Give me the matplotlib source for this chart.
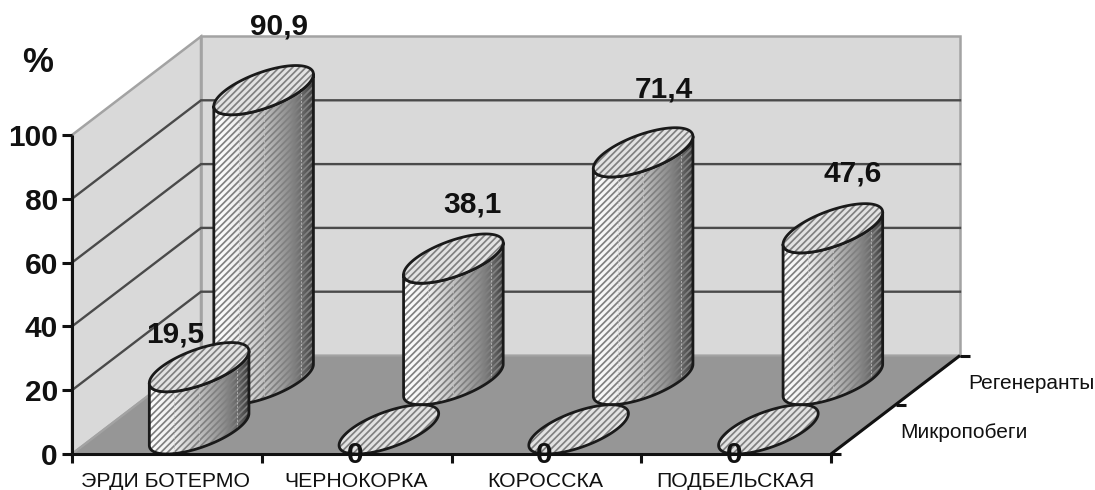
import numpy as np
import matplotlib
matplotlib.use("Agg")
import matplotlib.pyplot as plt
from matplotlib.patches import Polygon
from matplotlib.colors import LinearSegmentedColormap

plt.rcParams["font.family"] = ["Liberation Sans", "DejaVu Sans"]
plt.rcParams["hatch.linewidth"] = 1.25

categories = ["ЭРДИ БОТЕРМО", "ЧЕРНОКОРКА", "КОРОССКА", "ПОДБЕЛЬСКАЯ"]
series_names = ["Микропобеги", "Регенеранты"]
micro_values = [19.5, 0, 0, 0]
regen_values = [90.9, 38.1, 71.4, 47.6]
value_ticks = [0, 20, 40, 60, 80, 100]

# Oblique projection of the chart box onto the canvas
X0, Y0 = 72.0, 454.0
CAT_W = 189.75
DEPTH_X, DEPTH_Y = 129.0, 98.5
VAL_H = 3.19


def project(cat, depth, value):
    return X0 + cat * CAT_W + depth * DEPTH_X, Y0 - value * VAL_H - depth * DEPTH_Y


fig = plt.figure(figsize=(10.95, 4.9), dpi=100)
ax = fig.add_axes([0, 0, 1, 1])
ax.set_xlim(0, 1095)
ax.set_ylim(490, 0)
ax.axis("off")

n = len(categories)
WALL, FLOOR, EDGE = "#d9d9d9", "#969696", "#a3a3a3"
GRID = "#4a4a4a"

ax.add_patch(Polygon([project(0, 1, 0), project(n, 1, 0), project(n, 1, 100), project(0, 1, 100)],
                     fc=WALL, ec=EDGE, lw=1.8, zorder=1))
ax.add_patch(Polygon([project(0, 0, 0), project(0, 1, 0), project(0, 1, 100), project(0, 0, 100)],
                     fc=WALL, ec=EDGE, lw=1.8, zorder=1))
ax.add_patch(Polygon([project(0, 0, 0), project(n, 0, 0), project(n, 1, 0), project(0, 1, 0)],
                     fc=FLOOR, ec=EDGE, lw=1.6, zorder=2))

for v in value_ticks[1:-1]:
    pts = np.array([project(0, 0, v), project(0, 1, v), project(n, 1, v)])
    ax.plot(pts[:, 0], pts[:, 1], color=GRID, lw=1.7, zorder=2, solid_joinstyle="miter")

shade = LinearSegmentedColormap.from_list(
    "cyl", [(0, "#ffffff"), (0.25, "#eeeeee"), (0.5, "#c0c0c0"), (0.75, "#8f8f8f"), (0.92, "#5c5c5c"), (1, "#3c3c3c")])
gradient = np.linspace(0, 1, 256).reshape(1, -1)

RAD_CAT, RAD_DEPTH = 0.2, 0.25
HATCH = "/////"
STRIPE = "#808080"


def ring(i, depth, value, t):
    pts = [project(i + 0.5 + RAD_CAT * np.cos(a), depth + RAD_DEPTH * np.sin(a), value) for a in t]
    return np.array(pts)


def cylinder(i, depth, value, z):
    t_full = np.linspace(0, 2 * np.pi, 160)
    if value > 0:
        # silhouette angle where the projected disc reaches its x extreme
        t0 = np.arctan2(RAD_DEPTH * DEPTH_X, RAD_CAT * CAT_W)
        lower = ring(i, depth, 0, np.linspace(t0, t0 - np.pi, 90))
        upper = ring(i, depth, value, np.linspace(t0 - np.pi, t0, 90))
        body = np.vstack([lower, upper])
        xl, xr = lower[:, 0].min(), lower[:, 0].max()
        ytop, ybot = body[:, 1].min(), body[:, 1].max()
        im = ax.imshow(gradient, cmap=shade, extent=(xl, xr, ybot, ytop), aspect="auto",
                       zorder=z, interpolation="bilinear")
        clip = Polygon(body, transform=ax.transData, fc="none", ec="none")
        ax.add_patch(clip)
        im.set_clip_path(clip)
        ax.add_patch(Polygon(body, fc="none", ec=STRIPE, hatch=HATCH, lw=0, zorder=z + 0.01))
        # faint facet seams on the side of the column
        for frac in (0.25, 0.5, 0.88):
            xs = xl + frac * (xr - xl)
            ytop_seam = np.interp(xs, upper[:, 0], upper[:, 1])
            ybot_seam = np.interp(xs, lower[::-1, 0], lower[::-1, 1])
            ax.plot([xs, xs], [ytop_seam, ybot_seam], color="#c8c8c8", lw=0.5, ls=(0, (3, 2)), zorder=z + 0.02)
        ax.add_patch(Polygon(body, fc="none", ec="#1a1a1a", lw=2.0, zorder=z + 0.03, joinstyle="round"))
    top = ring(i, depth, value, t_full)
    ax.add_patch(Polygon(top, fc="#e2e2e2", ec="none", zorder=z + 0.04))
    ax.add_patch(Polygon(top, fc="none", ec=STRIPE, hatch=HATCH, lw=0, zorder=z + 0.05))
    ax.add_patch(Polygon(top, fc="none", ec="#1a1a1a", lw=2.0, zorder=z + 0.06))


for i, v in enumerate(regen_values):
    cylinder(i, 0.75, v, 3 + i * 0.1)
for i, v in enumerate(micro_values):
    cylinder(i, 0.25, v, 4 + i * 0.1)

ax.set_xlim(0, 1095)
ax.set_ylim(490, 0)

# Axis lines and ticks
AXIS = "#111111"
AL = dict(color=AXIS, lw=2.2, zorder=6, solid_capstyle="butt")
a, b = project(0, 0, 0), project(0, 0, 100)
ax.plot([a[0], b[0]], [a[1], b[1]], **AL)
a, b = project(0, 0, 0), project(n, 0, 0)
ax.plot([a[0], b[0]], [a[1], b[1]], **AL)
a, b = project(n, 0, 0), project(n, 1, 0)
ax.plot([a[0], b[0]], [a[1], b[1]], **AL)

for v in value_ticks:
    x, y = project(0, 0, v)
    ax.plot([x - 10, x], [y, y], **AL)
    ax.text(x - 14, y, str(v), ha="right", va="center_baseline", fontsize=21.5, fontweight="bold",
            color="#111111", zorder=7)
ax.text(38, 62, "%", ha="center", va="center", fontsize=25, fontweight="bold", color="#111111", zorder=7)

for i in range(n + 1):
    x, y = project(i, 0, 0)
    ax.plot([x, x], [y, y + 9], **AL)
for i, name in enumerate(categories):
    x, y = project(i + 0.5, 0, 0)
    ax.text(x - 1, y + 27, name, ha="center", va="center", fontsize=15.3, color="#111111", zorder=7)

for d in (0, 0.5, 1):
    x, y = project(n, d, 0)
    ax.plot([x, x + 10], [y, y], **AL)
for name, d, off in zip(series_names, (0.25, 0.75), (37, 40)):
    x, y = project(n, d, 0)
    ax.text(x + off, y + 3, name, ha="left", va="center", fontsize=15, color="#111111", zorder=7)

# Value labels sit at hand-tuned offsets from the top of each column
def fmt(v):
    return f"{v:g}".replace(".", ",")


regen_offsets = [(15, -64), (19, -54), (21, -63), (20, -55)]
micro_offsets = [(-24, -33), (-34, 26), (-34, 26), (-34, 26)]
for i, v in enumerate(regen_values):
    x, y = project(i + 0.5, 0.75, v)
    ax.text(x + regen_offsets[i][0], y + regen_offsets[i][1], fmt(v), ha="center", va="center",
            fontsize=21.5, fontweight="bold", color="#111111", zorder=8)
for i, v in enumerate(micro_values):
    x, y = project(i + 0.5, 0.25, v)
    ax.text(x + micro_offsets[i][0], y + micro_offsets[i][1], fmt(v), ha="center", va="center",
            fontsize=21.5, fontweight="bold", color="#111111", zorder=8)

fig.savefig("out.png", dpi=100)
